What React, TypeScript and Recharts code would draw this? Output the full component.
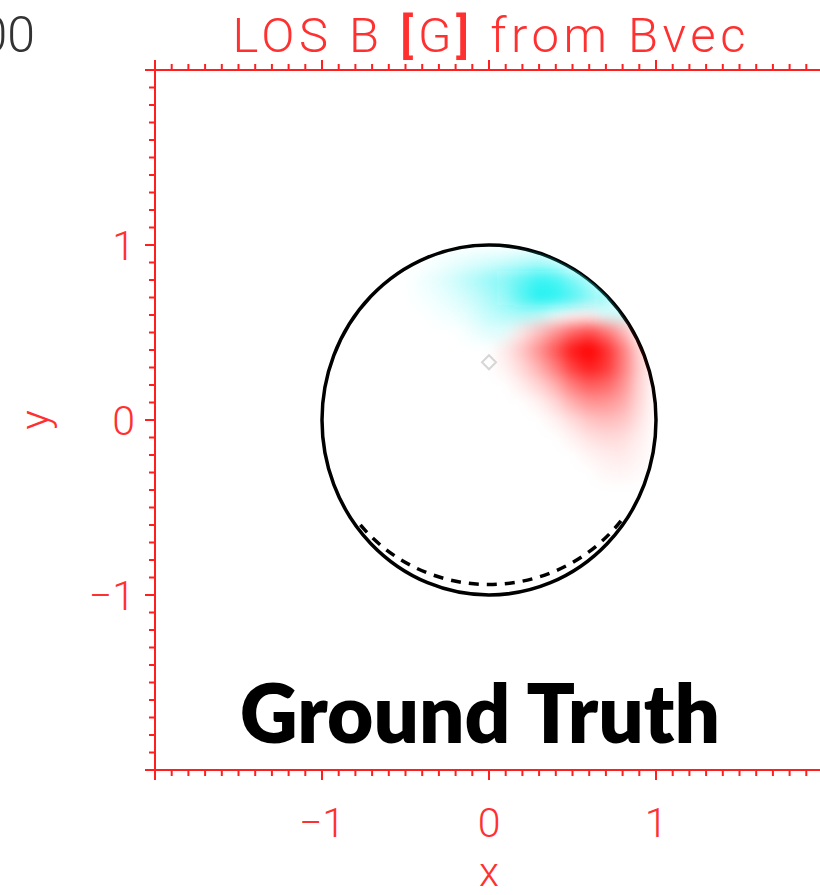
import { Label, ReferenceArea, Scatter, ScatterChart, XAxis, YAxis } from "recharts";

// axis range and tick marks (minor every 0.1, labels on the integers inside the box)
const AXIS_DOMAIN: [number, number] = [-2, 2];
const AXIS_TICKS = Array.from({ length: 41 }, (_, i) => (i - 20) / 10);
const LABELED_TICKS = [-1, 0, 1];
const TICK_TEXT: Record<string, string> = { "-1": "\u22121", "0": "0", "1": "1" };

// line-of-sight field sampled on a 0.1 grid (positive = red, negative = cyan)
const GRID_X = [-0.4, -0.3, -0.2, -0.1, 0, 0.1, 0.2, 0.3, 0.4, 0.5, 0.6, 0.7, 0.8, 0.9];
const GRID_Y = [0.9, 0.8, 0.7, 0.6, 0.5, 0.4, 0.3, 0.2, 0.1, 0, -0.1, -0.2, -0.3];
const LOS_FIELD = [
  [0, -0.04, -0.08, -0.12, -0.16, -0.2, -0.26, -0.3, -0.22, 0, 0, 0, 0, 0],
  [-0.05, -0.1, -0.18, -0.28, -0.38, -0.5, -0.66, -0.82, -0.76, -0.55, -0.35, 0, 0, 0],
  [-0.03, -0.07, -0.12, -0.2, -0.3, -0.45, -0.7, -0.9, -0.86, -0.7, -0.5, -0.32, 0, 0],
  [0, -0.03, -0.06, -0.12, -0.22, -0.28, -0.3, -0.24, -0.08, 0.03, 0.05, -0.15, -0.2, 0],
  [0, 0, 0, -0.05, -0.11, -0.1, 0.1, 0.25, 0.42, 0.6, 0.7, 0.55, 0.3, 0],
  [0, 0, 0, 0, 0, 0.08, 0.22, 0.42, 0.65, 0.9, 1.0, 0.82, 0.5, 0.15],
  [0, 0, 0, 0, 0, 0.05, 0.15, 0.3, 0.5, 0.75, 0.88, 0.78, 0.5, 0.18],
  [0, 0, 0, 0, 0, 0, 0.07, 0.16, 0.3, 0.5, 0.62, 0.58, 0.42, 0.16],
  [0, 0, 0, 0, 0, 0, 0, 0.05, 0.15, 0.3, 0.4, 0.4, 0.32, 0.14],
  [0, 0, 0, 0, 0, 0, 0, 0, 0.05, 0.13, 0.22, 0.25, 0.22, 0.1],
  [0, 0, 0, 0, 0, 0, 0, 0, 0, 0.05, 0.11, 0.14, 0.13, 0.06],
  [0, 0, 0, 0, 0, 0, 0, 0, 0, 0, 0.04, 0.07, 0.08, 0.04],
  [0, 0, 0, 0, 0, 0, 0, 0, 0, 0, 0, 0.03, 0.04, 0.02],
];

// limb of the disk and the dashed inner contour along its lower edge
const LIMB = { x1: -1, x2: 1, y1: -1, y2: 1 };
const INNER_CONTOUR = { x1: -1, x2: 1, y1: -0.94, y2: 0.94 };
const INNER_ARC_FROM = -0.77;
const INNER_ARC_TO = 0.79;
const DISK_CENTRE = [{ x: 0, y: 0.33 }];

const CHART_W = 840;
const CHART_H = 895;
const LEFT_W = 155;
const RIGHT_W = 17;
const TOP_H = 70;
const BOTTOM_H = 125;
const PLOT_W = CHART_W - LEFT_W - RIGHT_W;
const PLOT_H = CHART_H - TOP_H - BOTTOM_H;
const SPAN = AXIS_DOMAIN[1] - AXIS_DOMAIN[0];
const CELL_W = (0.1 * PLOT_W) / SPAN;
const CELL_H = (0.1 * PLOT_H) / SPAN;

const AXIS_RED = "#ff1f1f";
const TEXT_RED = "#ff3030";
const IDL_FONT = "Roboto, 'DejaVu Sans', sans-serif";

type Cell = { x: number; y: number; v: number };
const cells: Cell[] = [];
LOS_FIELD.forEach((row, r) =>
  row.forEach((v, c) => {
    if (v !== 0) cells.push({ x: GRID_X[c], y: GRID_Y[r], v });
  })
);
const positiveCells = cells.filter((d) => d.v > 0);
const negativeCells = cells.filter((d) => d.v < 0);

const heatCell = (color: string) => (props: any) => {
  const { cx, cy, payload } = props;
  return (
    <rect
      x={cx - CELL_W / 2 - 0.3}
      y={cy - CELL_H / 2 - 0.3}
      width={CELL_W + 0.6}
      height={CELL_H + 0.6}
      fill={color}
      fillOpacity={Math.min(1, Math.abs(payload.v))}
    />
  );
};

const isMajor = (v: number) => Number.isInteger(v);

function BottomTick({ x, y, payload }: any) {
  const v = payload.value;
  const text = LABELED_TICKS.includes(v) ? TICK_TEXT[String(v)] : null;
  return (
    <g>
      <line x1={x} y1={y} x2={x} y2={y + (isMajor(v) ? 10 : 6)} stroke={AXIS_RED} strokeWidth={2} />
      {text && (
        <text x={x} y={y + 67} textAnchor="middle" fill={TEXT_RED} fontSize={41} fontWeight={300} fontFamily={IDL_FONT}>
          {text}
        </text>
      )}
    </g>
  );
}

function TopTick({ x, y, payload }: any) {
  const v = payload.value;
  return <line x1={x} y1={y} x2={x} y2={y - (isMajor(v) ? 10 : 6)} stroke={AXIS_RED} strokeWidth={2} />;
}

function LeftTick({ x, y, payload }: any) {
  const v = payload.value;
  const text = LABELED_TICKS.includes(v) ? TICK_TEXT[String(v)] : null;
  return (
    <g>
      <line x1={x} y1={y} x2={x - (isMajor(v) ? 10 : 6)} y2={y} stroke={AXIS_RED} strokeWidth={2} />
      {text && (
        <text x={x - 20} y={y} dy="0.36em" textAnchor="end" fill={TEXT_RED} fontSize={41} fontWeight={300} fontFamily={IDL_FONT}>
          {text}
        </text>
      )}
    </g>
  );
}

function RightTick({ x, y, payload }: any) {
  const v = payload.value;
  return <line x1={x} y1={y} x2={x + (isMajor(v) ? 10 : 6)} y2={y} stroke={AXIS_RED} strokeWidth={2} />;
}

function PlotTitle({ viewBox }: any) {
  const cx = viewBox.x + viewBox.width / 2;
  return (
    <g fontFamily={IDL_FONT} fontWeight={300}>
      <text x={35} y={viewBox.y + 52} textAnchor="end" fill="#333" fontSize={50}>
        00
      </text>
      <text x={cx} y={viewBox.y + 52} textAnchor="middle" fill={TEXT_RED} fontSize={49} textLength={513} lengthAdjust="spacing">
        LOS B <tspan fontWeight={500}>[</tspan>G<tspan fontWeight={500}>]</tspan> from Bvec
      </text>
    </g>
  );
}

function XTitle({ viewBox }: any) {
  return (
    <text x={viewBox.x + viewBox.width / 2} y={viewBox.y + 116} textAnchor="middle" fill={TEXT_RED} fontSize={41} fontWeight={300} fontFamily={IDL_FONT}>
      x
    </text>
  );
}

function YTitle({ viewBox }: any) {
  const x = viewBox.x + 49;
  const y = viewBox.y + viewBox.height / 2;
  return (
    <text x={x} y={y} transform={`rotate(-90 ${x} ${y})`} textAnchor="middle" fill={TEXT_RED} fontSize={41} fontWeight={300} fontFamily={IDL_FONT}>
      y
    </text>
  );
}

function LimbShape({ x, y, width, height }: any) {
  return <ellipse cx={x + width / 2} cy={y + height / 2} rx={width / 2} ry={height / 2} fill="none" stroke="#000" strokeWidth={3.5} />;
}

function InnerArcShape({ x, y, width, height }: any) {
  const cx = x + width / 2;
  const cy = y + height / 2;
  const rx = width / 2;
  const ry = height / 2;
  const x0 = cx + INNER_ARC_FROM * rx;
  const y0 = cy + Math.sqrt(1 - INNER_ARC_FROM ** 2) * ry;
  const x1 = cx + INNER_ARC_TO * rx;
  const y1 = cy + Math.sqrt(1 - INNER_ARC_TO ** 2) * ry;
  return (
    <path
      d={`M${x0} ${y0} A${rx} ${ry} 0 0 0 ${x1} ${y1}`}
      fill="none"
      stroke="#000"
      strokeWidth={3.5}
      strokeDasharray="10 8"
    />
  );
}

function CentreMark({ cx, cy }: any) {
  const r = 7;
  return (
    <path
      d={`M${cx} ${cy - r} L${cx + r} ${cy} L${cx} ${cy + r} L${cx - r} ${cy} Z`}
      fill="none"
      stroke="#d6d6d6"
      strokeWidth={2}
    />
  );
}

// disk outline in chart pixels, used to keep the blurred field inside the limb
const DISK_CX = LEFT_W + PLOT_W / 2;
const DISK_CY = TOP_H + PLOT_H / 2;
const DISK_RX = PLOT_W / SPAN;
const DISK_RY = PLOT_H / SPAN;

export default function App() {
  const axisLine = { stroke: AXIS_RED, strokeWidth: 2 };
  return (
    <div style={{ position: "fixed", left: 0, top: 0, width: 820, height: 895, overflow: "hidden", background: "#fff" }}>
      <style>{`.los-field { filter: url(#losBlur); clip-path: url(#diskClip); }`}</style>
      <svg width={0} height={0} style={{ position: "absolute" }}>
        <defs>
          <filter id="losBlur" x="-60%" y="-60%" width="220%" height="220%">
            <feGaussianBlur stdDeviation="7" />
          </filter>
          <clipPath id="diskClip" clipPathUnits="userSpaceOnUse">
            <ellipse cx={DISK_CX} cy={DISK_CY} rx={DISK_RX} ry={DISK_RY} />
          </clipPath>
        </defs>
      </svg>
      <ScatterChart width={CHART_W} height={CHART_H} margin={{ top: 0, right: 0, bottom: 0, left: 0 }}>
        <XAxis
          xAxisId="b"
          type="number"
          dataKey="x"
          domain={AXIS_DOMAIN}
          ticks={AXIS_TICKS}
          interval={0}
          tickSize={0}
          tickMargin={0}
          tickLine={false}
          tick={BottomTick}
          axisLine={axisLine}
          height={BOTTOM_H}
          allowDataOverflow
        >
          <Label content={<XTitle />} />
        </XAxis>
        <XAxis
          xAxisId="t"
          orientation="top"
          type="number"
          dataKey="x"
          domain={AXIS_DOMAIN}
          ticks={AXIS_TICKS}
          interval={0}
          tickSize={0}
          tickMargin={0}
          tickLine={false}
          tick={TopTick}
          axisLine={axisLine}
          height={TOP_H}
          allowDataOverflow
        >
          <Label content={<PlotTitle />} />
        </XAxis>
        <YAxis
          yAxisId="l"
          type="number"
          dataKey="y"
          domain={AXIS_DOMAIN}
          ticks={AXIS_TICKS}
          interval={0}
          tickSize={0}
          tickMargin={0}
          tickLine={false}
          tick={LeftTick}
          axisLine={axisLine}
          width={LEFT_W}
          allowDataOverflow
        >
          <Label content={<YTitle />} />
        </YAxis>
        <YAxis
          yAxisId="r"
          orientation="right"
          type="number"
          dataKey="y"
          domain={AXIS_DOMAIN}
          ticks={AXIS_TICKS}
          interval={0}
          tickSize={0}
          tickMargin={0}
          tickLine={false}
          tick={RightTick}
          axisLine={axisLine}
          width={RIGHT_W}
          allowDataOverflow
        />
        <Scatter
          xAxisId="b"
          yAxisId="l"
          className="los-field"
          data={negativeCells}
          shape={heatCell("#10f0f0")}
          isAnimationActive={false}
        />
        <Scatter
          xAxisId="b"
          yAxisId="l"
          className="los-field"
          data={positiveCells}
          shape={heatCell("#ff0000")}
          isAnimationActive={false}
        />
        <ReferenceArea xAxisId="b" yAxisId="l" {...LIMB} shape={LimbShape} />
        <ReferenceArea xAxisId="b" yAxisId="l" {...INNER_CONTOUR} shape={InnerArcShape} />
        <Scatter xAxisId="b" yAxisId="l" data={DISK_CENTRE} shape={CentreMark} isAnimationActive={false} />
      </ScatterChart>
      <svg width={820} height={895} style={{ position: "absolute", left: 0, top: 0, pointerEvents: "none" }}>
        <text
          x={480}
          y={743}
          textAnchor="middle"
          fontFamily="Lato, 'Noto Sans', sans-serif"
          fontWeight={800}
          fontSize={81}
          textLength={480}
          lengthAdjust="spacingAndGlyphs"
          fill="#000"
        >
          Ground Truth
        </text>
      </svg>
    </div>
  );
}
